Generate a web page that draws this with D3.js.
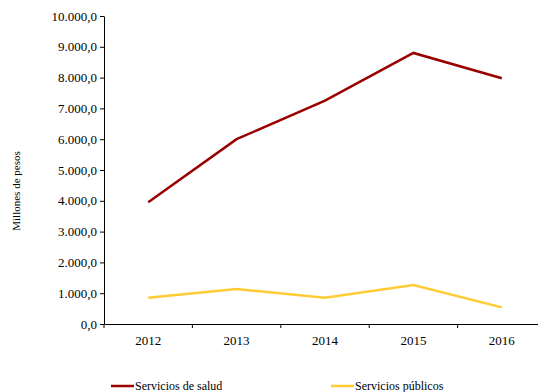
<!DOCTYPE html>
<html><head><meta charset="utf-8">
<script src="https://cdn.jsdelivr.net/npm/d3@7"></script>
<style>body{margin:0;background:#fff}svg{display:block}</style>
</head><body>
<script>
const years = ["2012","2013","2014","2015","2016"];
const salud = [3950, 6000, 7250, 8800, 7980];
const publicos = [850, 1135, 850, 1265, 540];
const yTicks = [0,1000,2000,3000,4000,5000,6000,7000,8000,9000,10000];
const seriesNames = ["Servicios de salud","Servicios públicos"];
const seriesColors = ["#990000","#FFCC33"];

const FONT = "'Liberation Serif', 'Times New Roman', serif";
const W=538,H=392;
const svg=d3.select("body").append("svg").attr("width",W).attr("height",H)
  .attr("font-family",FONT);
const x=d3.scaleBand().domain(years).range([104,546]);
const y=d3.scaleLinear().domain([0,10000]).range([324,16]);
const fmt=v=>d3.format(",.1f")(v).replace(/,/g,"#").replace(".",",").replace(/#/g,".");

const ya=svg.append("g").attr("transform","translate(104,0)")
  .call(d3.axisLeft(y).tickValues(yTicks).tickFormat(fmt).tickSize(4).tickSizeOuter(0))
  .attr("font-family",FONT).attr("font-size",13);
ya.select(".domain").attr("stroke","#000");
ya.selectAll("text").attr("x",-7).attr("fill","#000");

const xa=svg.append("g").attr("transform","translate(0,324)")
  .call(d3.axisBottom(x).tickSize(0).tickSizeOuter(0))
  .attr("font-family",FONT).attr("font-size",13);
xa.select(".domain").attr("stroke","#000");
xa.selectAll("text").attr("dy","0").attr("y",21).attr("fill","#000");
xa.selectAll(".bt").data(years.concat(["end"])).enter().append("line")
  .attr("x1",(d,i)=>104+i*x.bandwidth()).attr("x2",(d,i)=>104+i*x.bandwidth())
  .attr("y1",0).attr("y2",4).attr("stroke","#000");

const line=d3.line().x((d,i)=>x(years[i])+x.bandwidth()/2).y(d=>y(d));
[salud,publicos].forEach((s,k)=>{
  svg.append("path").datum(s).attr("d",line).attr("fill","none")
    .attr("stroke",seriesColors[k]).attr("stroke-width",2.5);
});

svg.append("text").attr("transform","translate(20,191) rotate(-90)")
  .attr("text-anchor","middle").attr("font-size",11).text("Millones de pesos");

const lx=[111,331];
seriesNames.forEach((n,k)=>{
  svg.append("line").attr("x1",lx[k]).attr("x2",lx[k]+23).attr("y1",386).attr("y2",386)
    .attr("stroke",seriesColors[k]).attr("stroke-width",2.5);
  svg.append("text").attr("x",lx[k]+24).attr("y",390).attr("font-size",12).text(n);
});
</script>
</body></html>
